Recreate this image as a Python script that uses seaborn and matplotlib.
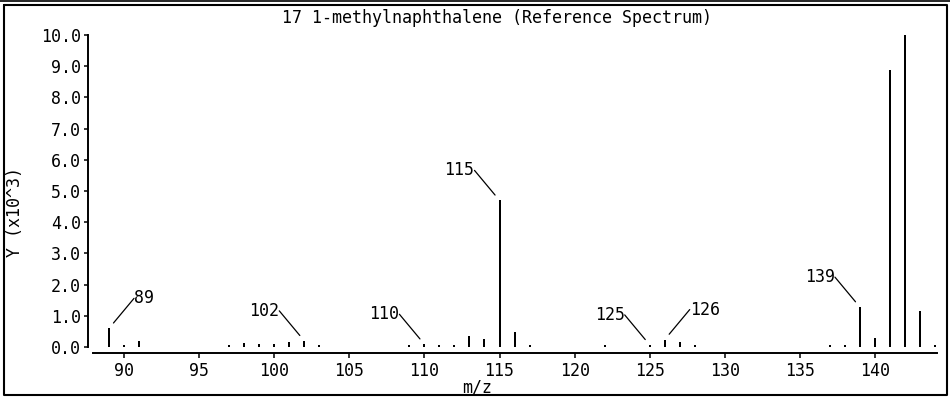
import numpy as np
import pandas as pd
import matplotlib
matplotlib.use("Agg")
import matplotlib.pyplot as plt
import seaborn as sns
from matplotlib.lines import Line2D

# peak list (intensity in units of 10^3)
mz = [89, 90, 91, 97, 98, 99, 100, 101, 102, 103, 109, 110, 111, 112, 113, 114,
      115, 116, 117, 122, 125, 126, 127, 128, 137, 138, 139, 140, 141, 142, 143, 144]
intensity = [0.60, 0.08, 0.20, 0.07, 0.14, 0.10, 0.10, 0.15, 0.20, 0.07, 0.07, 0.09,
             0.08, 0.07, 0.35, 0.25, 4.70, 0.48, 0.07, 0.07, 0.07, 0.24, 0.16, 0.07,
             0.08, 0.08, 1.28, 0.28, 8.88, 10.0, 1.14, 0.08]
labeled_mz = [89, 102, 110, 115, 125, 126, 139]
label_side = ["right", "left", "left", "left", "left", "right", "left"]
y_ticks = [0, 1, 2, 3, 4, 5, 6, 7, 8, 9, 10]
x_ticks = [90, 95, 100, 105, 110, 115, 120, 125, 130, 135, 140]

# each stem = two points (baseline, peak top), one line per m/z
stems = pd.DataFrame({
    "mz": np.repeat(mz, 2),
    "y": np.column_stack([np.zeros(len(intensity)), intensity]).ravel(),
})

sns.set_style("white")
plt.rcParams["font.family"] = ["DejaVu Sans Mono"]
plt.rcParams["font.size"] = 12
plt.rcParams["text.color"] = "black"

W, H = 950, 397
fig = plt.figure(figsize=(W / 100, H / 100), dpi=100)
ax = fig.add_axes([88 / W, 1 - 353 / H, (937 - 88) / W, (353 - 35) / H])

sns.lineplot(data=stems, x="mz", y="y", units="mz", estimator=None, sort=False,
             color="black", linewidth=1.44, solid_capstyle="butt", ax=ax)

ax.set_xlim(87.6, 144.13)
ax.set_ylim(-0.19, 10.0)
ax.set_xticks(x_ticks)
ax.set_yticks(y_ticks)
ax.set_yticklabels([f"{v:.1f}" for v in y_ticks])
ax.set_xlabel("")
ax.set_ylabel("")

for s in ["top", "right"]:
    ax.spines[s].set_visible(False)
ax.spines["left"].set_bounds(0, 10)
ax.spines["bottom"].set_bounds(87.93, 144.13)
for s in ["left", "bottom"]:
    ax.spines[s].set_linewidth(1.4)
    ax.spines[s].set_color("black")
ax.tick_params(axis="y", direction="out", length=3, width=1.1, pad=2, colors="black")
ax.tick_params(axis="x", direction="out", length=3.6, width=1.1, pad=3, colors="black")
ax.tick_params(left=True, bottom=True)

lookup = dict(zip(mz, intensity))
for m, side in zip(labeled_mz, label_side):
    dx = 25 if side == "right" else -25
    ax.annotate(str(m), xy=(m, lookup[m]), xytext=(dx, 30), textcoords="offset pixels",
                ha="left" if side == "right" else "right", va="center", fontsize=12,
                color="black",
                arrowprops=dict(arrowstyle="-", color="black", lw=0.9, patchA=None,
                                shrinkA=0, shrinkB=5,
                                relpos=(0, 0.5) if side == "right" else (1, 0.5)))

fig.text(497 / W, 1 - 18 / H, "17 1-methylnaphthalene (Reference Spectrum)",
         ha="center", va="center", fontsize=12, color="black")
fig.text(15 / W, 1 - 212 / H, "Y (x10^3)", rotation=90, ha="center", va="center",
         fontsize=12, color="black")
fig.text(477 / W, 1 - 388 / H, "m/z", ha="center", va="center", fontsize=12, color="black")

# window frame
fig.add_artist(Line2D([0, 1], [1 - 1 / H, 1 - 1 / H], color="black", lw=1.2))
fig.add_artist(Line2D([4 / W, 4 / W, 947 / W, 947 / W, 4 / W],
                      [1 - 5 / H, 1 - 395 / H, 1 - 395 / H, 1 - 5 / H, 1 - 5 / H],
                      color="black", lw=1.5))

fig.savefig("out.png", dpi=100)
